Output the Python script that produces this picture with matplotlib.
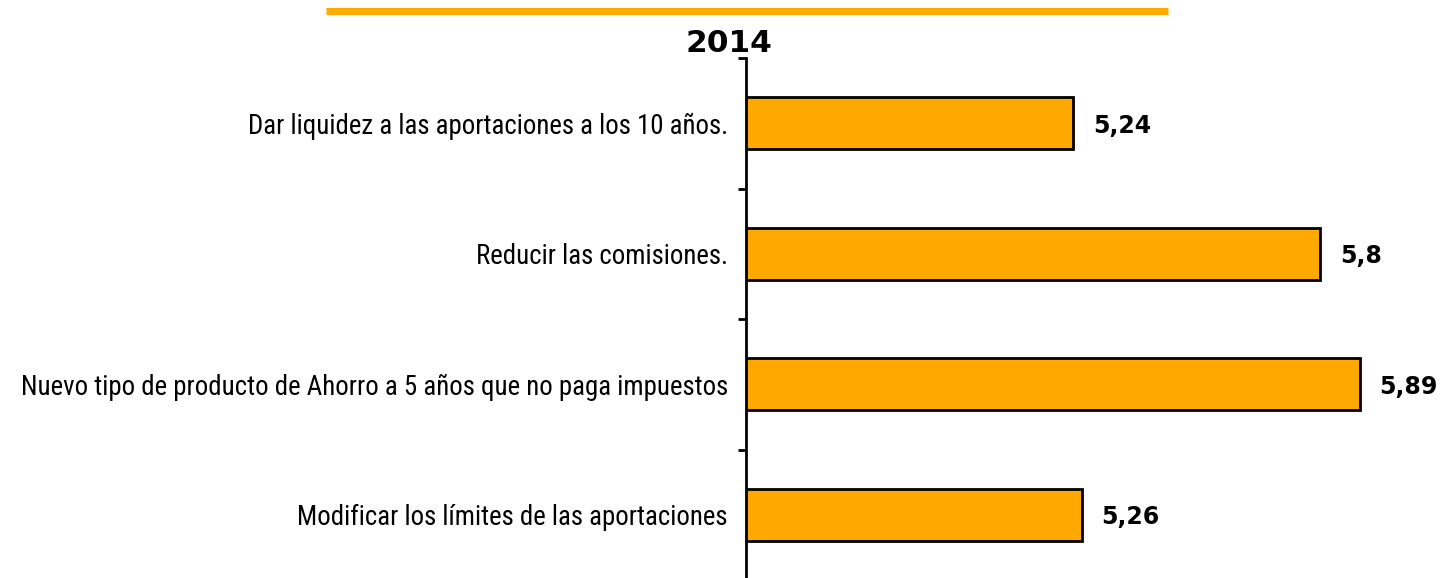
import matplotlib
matplotlib.use("Agg")
import matplotlib.pyplot as plt
from matplotlib import font_manager
from matplotlib.lines import Line2D

categories = [
    "Dar liquidez a las aportaciones a los 10 años.",
    "Reducir las comisiones.",
    "Nuevo tipo de producto de Ahorro a 5 años que no paga impuestos",
    "Modificar los límites de las aportaciones",
]
values = [5.24, 5.8, 5.89, 5.26]
value_labels = ["5,24", "5,8", "5,89", "5,26"]
title = "2014"

avail = {f.name for f in font_manager.fontManager.ttflist}
narrow = None
for cand in ["Roboto Condensed", "Liberation Sans Narrow", "DejaVu Sans Condensed", "Open Sans Condensed"]:
    if cand in avail:
        narrow = cand
        break
label_family = [narrow, "DejaVu Sans"] if narrow else ["DejaVu Sans"]
label_size = 19.4 if narrow == "Roboto Condensed" else (17 if narrow else 14)

W, H = 1442, 578
fig = plt.figure(figsize=(W / 100, H / 100), dpi=100)
ax = fig.add_axes([746 / W, 1 - 580 / H, 1 - 746 / W, (580 - 58) / H])

bar_color = "#FFA800"
ypos = list(range(len(categories)))
ax.barh(ypos, values, height=0.4, left=0, color=bar_color, edgecolor="black", linewidth=2)
ax.set_xlim(4.5, 4.5 + (W - 746) / 441.5)
ax.set_ylim(3.5, -0.5)

for y, v, t in zip(ypos, values, value_labels):
    ax.annotate(t, xy=(v, y), xytext=(14.4, 0), textcoords="offset points",
                ha="left", va="center_baseline", fontsize=17, fontweight="bold",
                family="DejaVu Sans")

ax.set_yticks(ypos)
ax.set_yticklabels(categories, fontsize=label_size, family=label_family)
ax.tick_params(axis="y", which="major", length=0, pad=13)
ax.set_yticks([-0.5, 0.5, 1.5, 2.5, 3.5], minor=True)
ax.tick_params(axis="y", which="minor", length=6, width=2, direction="out")
ax.set_xticks([])
for s in ["top", "right", "bottom"]:
    ax.spines[s].set_visible(False)
ax.spines["left"].set_linewidth(2)

fig.add_artist(Line2D([326 / W, 1168 / W], [1 - 10.5 / H, 1 - 10.5 / H],
                      transform=fig.transFigure, color="#FFAA00", linewidth=5.2,
                      solid_capstyle="butt"))
fig.text(729 / W, 1 - 41 / H, title, ha="center", va="center_baseline", fontsize=22.5,
         fontweight="bold", family="DejaVu Sans")

fig.savefig("out.png", dpi=100)
